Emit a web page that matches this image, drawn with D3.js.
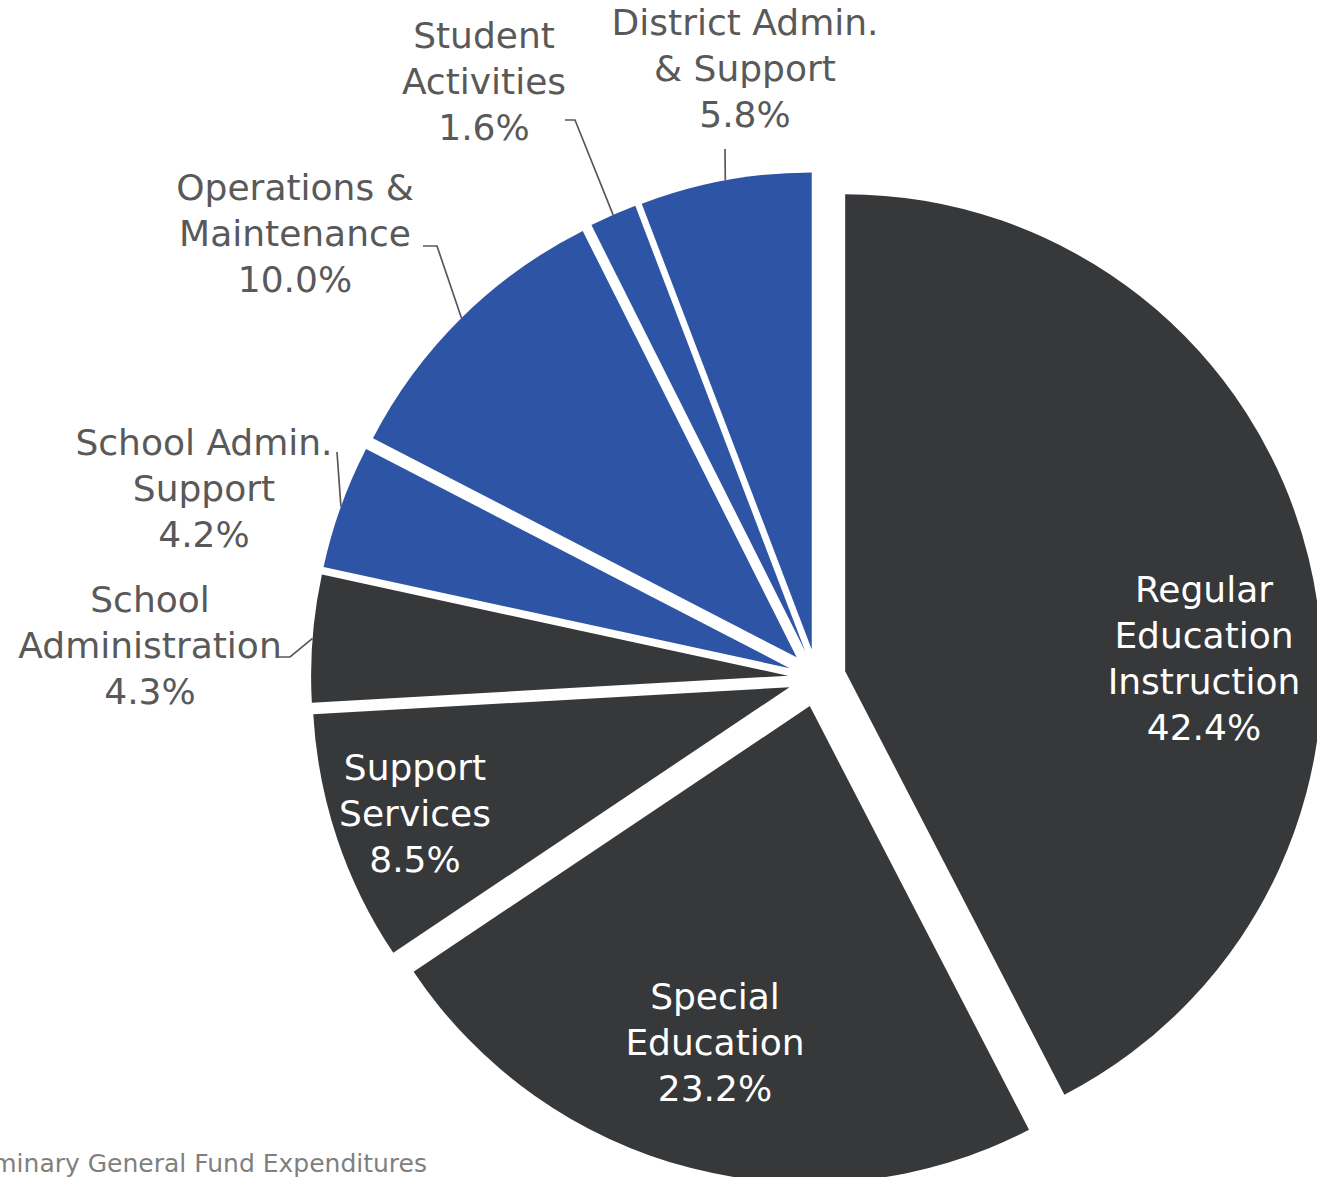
<!DOCTYPE html>
<html lang="en">
<head>
    <meta charset="UTF-8">
    <title>General Fund Expenditures</title>
    <script src="https://d3js.org/d3.v7.min.js"></script>
    <style>
        html, body { margin: 0; padding: 0; background: #fff; }
        svg { display: block; }
        .lbl { font-family: "DejaVu Sans", sans-serif; font-size: 36px; text-anchor: middle; }
        .lbl.out { fill: #595959; }
        .lbl.in { fill: #ffffff; }
        .leader { fill: none; stroke: #595959; stroke-width: 1.7px; }
        .caption { font-family: "DejaVu Sans", sans-serif; font-size: 25px; fill: #7f7f7f; text-anchor: end; }
    </style>
</head>
<body>
<svg id="chart"></svg>
<script>
// data (clockwise from 12 o'clock)
const categories = ["Regular Education Instruction", "Special Education", "Support Services",
    "School Administration", "School Admin. Support", "Operations & Maintenance",
    "Student Activities", "District Admin. & Support"];
const values = [42.4, 23.2, 8.5, 4.3, 4.2, 10.0, 1.6, 5.8];
const labelLines = [
    ["Regular", "Education", "Instruction"],
    ["Special", "Education"],
    ["Support", "Services"],
    ["School", "Administration"],
    ["School Admin.", "Support"],
    ["Operations &", "Maintenance"],
    ["Student", "Activities"],
    ["District Admin.", "& Support"]
];
const groups = ["dark", "dark", "dark", "dark", "blue", "blue", "blue", "blue"];

// layout (label anchors: x centre, first baseline; leader start / elbow)
const labelAt = [
    { x: 1204, y: 602, inside: true },
    { x: 715, y: 1009, inside: true },
    { x: 415, y: 780, inside: true },
    { x: 150, y: 612, leader: [[278, 657], [290, 657]] },
    { x: 204, y: 455, leader: [[337, 452]] },
    { x: 295, y: 200, leader: [[423, 246], [437, 246]] },
    { x: 484, y: 48, leader: [[565, 120], [575, 120]] },
    { x: 745, y: 35, leader: [[725, 149]] }
];

const width = 1317, height = 1177;
const cx = 817, cy = 678, radius = 477, explode = 29;
const lineH = 46;
const colors = { dark: "#37383a", blue: "#2e55a5" };

const svg = d3.select("#chart").attr("width", width).attr("height", height);

const pie = d3.pie().sort(null).value(d => d);
const arcs = pie(values);
const arc = d3.arc().innerRadius(0).outerRadius(radius);

const g = svg.append("g").attr("transform", `translate(${cx},${cy})`);

function offset(d) {
    const a = (d.startAngle + d.endAngle) / 2;
    return [Math.sin(a) * explode, -Math.cos(a) * explode];
}

g.selectAll("path.slice")
    .data(arcs)
    .enter().append("path")
    .attr("class", "slice")
    .attr("transform", d => `translate(${offset(d)})`)
    .attr("fill", (d, i) => colors[groups[i]])
    .attr("d", arc);

// leader lines: from label to the outer arc at the slice bisector
arcs.forEach((d, i) => {
    const lp = labelAt[i];
    if (!lp.leader) return;
    const a = (d.startAngle + d.endAngle) / 2;
    const o = offset(d);
    const end = [cx + o[0] + Math.sin(a) * radius, cy + o[1] - Math.cos(a) * radius];
    svg.append("path")
        .attr("class", "leader")
        .attr("d", d3.line()(lp.leader.concat([end])));
});

// labels
arcs.forEach((d, i) => {
    const lp = labelAt[i];
    const lines = labelLines[i].concat([values[i].toFixed(1) + "%"]);
    const t = svg.append("text")
        .attr("class", "lbl " + (lp.inside ? "in" : "out"))
        .attr("x", lp.x)
        .attr("y", lp.y);
    lines.forEach((s, k) => {
        t.append("tspan")
            .attr("x", lp.x)
            .attr("dy", k === 0 ? 0 : lineH)
            .text(s);
    });
});

// caption runs off the left edge, as in the original
svg.append("text")
    .attr("class", "caption")
    .attr("x", 427)
    .attr("y", 1172)
    .text("Preliminary General Fund Expenditures");
</script>
</body>
</html>
